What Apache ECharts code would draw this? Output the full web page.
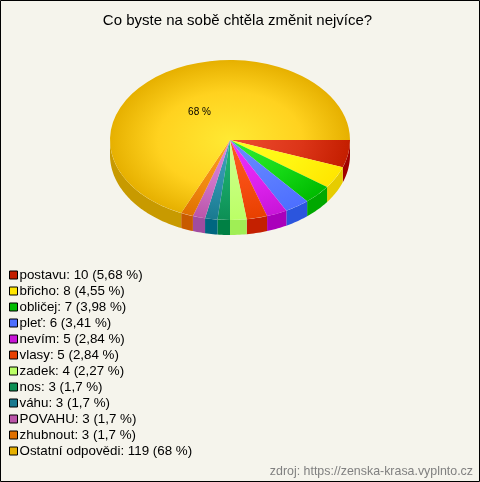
<!DOCTYPE html>
<html>
<head>
<meta charset="utf-8">
<style>html,body{margin:0;padding:0;background:#f5f4ec}#c{width:480px;height:482px}</style>
<script src="https://cdn.jsdelivr.net/npm/echarts@6/dist/echarts.min.js"></script>
</head>
<body>
<div id="c"></div>
<script>
const categories = ['postavu','břicho','obličej','pleť','nevím','vlasy','zadek','nos','váhu','POVAHU','zhubnout','Ostatní odpovědi'];
const values = [10,8,7,6,5,5,4,3,3,3,3,119];
const percentLabels = ['5,68 %','4,55 %','3,98 %','3,41 %','2,84 %','2,84 %','2,27 %','1,7 %','1,7 %','1,7 %','1,7 %','68 %'];
const legendColors = ['#c41e00','#ffe600','#00bb00','#4d6fff','#c815d8','#e84000','#bbff66','#0d8f55','#1a7a90','#bb55aa','#e07000','#e6b000'];
const innerColors = ['#ee4c30','#ffff22','#33f033','#6a8cff','#ee33ff','#ff5a22','#d0ff90','#22bb77','#44a4bc','#e08ae0','#ffa020','#ffe933'];
const midColors = ['#dc3518','#fff510','#14d614','#5a7cff','#dc22ec','#f44c10','#c4ff78','#16a264','#2a8ea8','#cc70c4','#f08810','#ffd21f'];
const wallColors = ['#a00000','#e6cc00','#00a800','#2b55dd','#aa00bb','#c42000','#a0ee55','#008044','#006680','#a04ca0','#c85a00','#c89a00'];

const cx = 230, cy = 140, rx = 120, ry = 80, depth = 15;
// The picture gives each named answer 2 degrees per response; the last slice closes the circle.
const responsesPerTurn = 180;
let acc = 0;
const spans = values.map((v, i) => {
  const s = acc / responsesPerTurn * Math.PI * 2;
  acc += v;
  return [s, i === values.length - 1 ? Math.PI * 2 : acc / responsesPerTurn * Math.PI * 2];
});

function wallPoints(a0, a1) {
  const s = Math.max(a0, 0), e = Math.min(a1, Math.PI);
  if (e <= s) return null;
  const top = [], bottom = [];
  const n = Math.max(2, Math.ceil((e - s) / 0.02));
  for (let i = 0; i <= n; i++) {
    const a = s + (e - s) * i / n;
    const x = cx + rx * Math.cos(a), y = cy + ry * Math.sin(a);
    top.push([x, y]);
    bottom.unshift([x, y + depth]);
  }
  return top.concat(bottom);
}

const series = categories.map((name, i) => ({
  type: 'custom',
  name: name + ': ' + values[i] + ' (' + percentLabels[i] + ')',
  coordinateSystem: 'none',
  silent: true,
  itemStyle: { color: legendColors[i] },
  data: [values[i]],
  renderItem: function () {
    const [a0, a1] = spans[i];
    const children = [];
    const pts = wallPoints(a0, a1);
    if (pts) children.push({ type: 'polygon', shape: { points: pts }, style: { fill: wallColors[i] } });
    children.push({
      type: 'sector',
      originX: cx, originY: cy, scaleY: ry / rx,
      shape: { cx: cx, cy: cy, r0: 0, r: rx, startAngle: a0, endAngle: a1, clockwise: true },
      style: {
        fill: {
          type: 'radial', x: cx, y: cy, r: rx, global: true,
          colorStops: [
            { offset: 0, color: innerColors[i] },
            { offset: 0.6, color: midColors[i] },
            { offset: 1, color: legendColors[i] }
          ]
        }
      }
    });
    if (i === categories.length - 1) {
      children.push({
        type: 'text',
        style: {
          text: percentLabels[i], x: 199.5, y: 112,
          align: 'center', verticalAlign: 'middle',
          font: '10px "Liberation Sans", Arial, sans-serif', fill: '#000'
        }
      });
    }
    return { type: 'group', children: children };
  }
}));

const chart = echarts.init(document.getElementById('c'), null, { renderer: 'canvas' });
chart.setOption({
  animation: false,
  backgroundColor: '#f5f4ec',
  title: [
    { text: 'Co byste na sobě chtěla změnit nejvíce?', left: 232.5, top: 8, textAlign: 'center',
      textStyle: { fontFamily: 'Liberation Sans', fontSize: 15, fontWeight: 'normal', color: '#000' } },
    { text: 'zdroj: https://zenska-krasa.vyplnto.cz', right: 2, top: 461,
      textStyle: { fontFamily: 'Liberation Sans', fontSize: 12.4, fontWeight: 'normal', color: '#808080' } }
  ],
  legend: {
    orient: 'vertical', left: 9, top: 268.5, padding: 0,
    itemWidth: 8, itemHeight: 8, itemGap: 3, selectedMode: false, icon: 'rect',
    align: 'left',
    itemStyle: { borderColor: '#000', borderWidth: 1 },
    textStyle: { fontFamily: 'Liberation Sans', fontSize: 13.35, color: '#000', padding: [0, 0, 0, -3], lineHeight: 13 },
    data: series.map(s => s.name)
  },
  graphic: [
    { type: 'rect', silent: true, shape: { x: 0.5, y: 0.5, width: 479, height: 481 },
      style: { stroke: '#000', lineWidth: 1, fill: null } }
  ],
  series: series
});
</script>
</body>
</html>
